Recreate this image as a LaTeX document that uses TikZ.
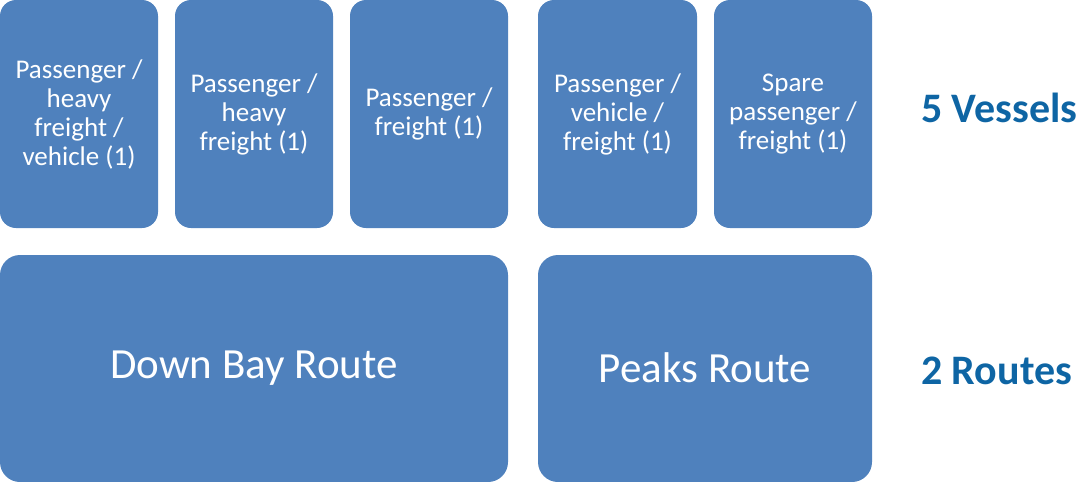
\documentclass[tikz,border=0pt]{standalone}
\usepackage{fontspec}
\setmainfont{Carlito}
\definecolor{boxblue}{RGB}{79,129,189}
\definecolor{labelblue}{RGB}{14,101,164}
\tikzset{
  vessel/.style={fill=boxblue, rounded corners=16pt, inner sep=0pt},
  route/.style={fill=boxblue, rounded corners=20pt, inner sep=0pt},
  boxtext/.style={text=white, align=center, font=\fontsize{27}{29}\selectfont},
  routetext/.style={text=white, font=\fontsize{43}{50}\selectfont},
  sidelabel/.style={text=labelblue, anchor=west, font=\fontsize{42}{48}\selectfont\bfseries, inner sep=0pt}
}
\begin{document}
\begin{tikzpicture}[x=1pt,y=-1pt]
\useasboundingbox (0,0) rectangle (1080,482);
% vessel boxes
\fill[vessel] (0,0) rectangle (158,228);
\fill[vessel] (175,0) rectangle (333,228);
\fill[vessel] (350,0) rectangle (508,228);
\fill[vessel] (538,0) rectangle (697,228);
\fill[vessel] (714,0) rectangle (872,228);
% route boxes
\fill[route] (0,255) rectangle (508,482);
\fill[route] (538,255) rectangle (872,482);
% texts
\node[boxtext] (v1) at (79,114) {Passenger /\\heavy\\freight /\\vehicle (1)};
\node[boxtext] (v2) at (254,114) {Passenger /\\heavy\\freight (1)};
\node[boxtext] (v3) at (429,114) {Passenger /\\freight (1)};
\node[boxtext] (v4) at (617.5,114) {Passenger /\\vehicle /\\freight (1)};
\node[boxtext] (v5) at (793,114) {Spare\\passenger /\\freight (1)};
\node[routetext] (r1) at (254,368) {Down Bay Route};
\node[routetext] (r2) at (705,368) {Peaks Route};
\node[sidelabel] (l1) at (921,108) {5 Vessels};
\node[sidelabel] (l2) at (921,371) {2 Routes};
\end{tikzpicture}
\end{document}
